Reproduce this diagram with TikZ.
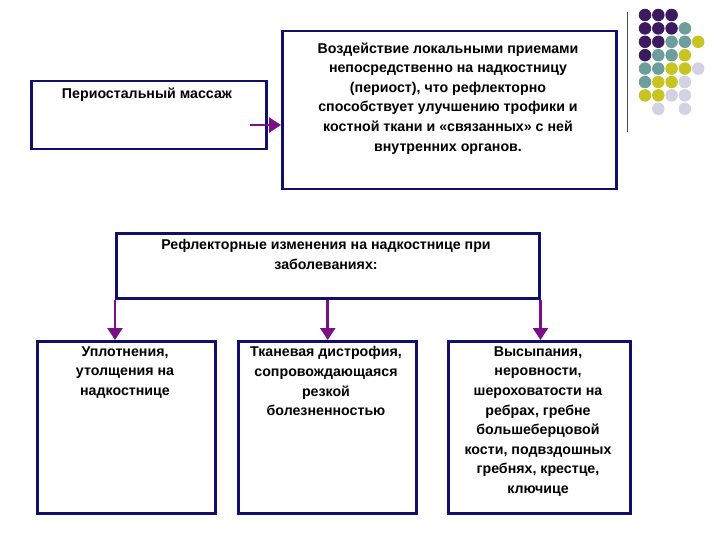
\documentclass[tikz,border=0pt]{standalone}
\usepackage{fontspec}
\setmainfont{Liberation Sans}
\usetikzlibrary{arrows.meta}
\definecolor{nav}{HTML}{10106A}
\definecolor{pur}{HTML}{7A0F86}
\definecolor{dP}{HTML}{3B1A5E}
\definecolor{dT}{HTML}{6E9E9C}
\definecolor{dY}{HTML}{C8C421}
\definecolor{dL}{HTML}{D2D2E2}
\tikzset{box/.style={draw=nav,line width=2.5pt,inner sep=0pt},
 txt/.style={font=\bfseries\fontsize{14.2}{19.6}\selectfont,align=center},
 arr/.style={draw=pur,line width=2.6pt,-{Triangle[length=12pt,width=15pt]}},
 dot/.style={circle,inner sep=0pt,minimum size=12.5pt}}
\begin{document}
\begin{tikzpicture}[x=1pt,y=-1pt]
\useasboundingbox (0,0) rectangle (720,540);
\node[box,minimum width=235pt,minimum height=68pt,anchor=north west] (a) at (30,80) {};
\node[txt,anchor=north] (at) at (147,84) {Периостальный массаж};
\node[box,minimum width=334pt,minimum height=158pt,anchor=north west] (b) at (281,30) {};
\node[txt,anchor=north] (bt) at (448,39) {Воздействие локальными приемами\\непосредственно на надкостницу\\(периост), что рефлекторно\\способствует улучшению трофики и\\костной ткани и «связанных» с ней\\внутренних органов.};
\coordinate (a1) at (250,125);
\coordinate (b1) at (281,125);
\draw[arr] (a1) -- (b1);
\node[box,minimum width=423pt,minimum height=65pt,anchor=north west] (c) at (115,232) {};
\node[txt,anchor=north] (ct) at (326,236) {Рефлекторные изменения на надкостнице при\\заболеваниях:};
\node[box,minimum width=178pt,minimum height=172pt,anchor=north west] (d1) at (36,340) {};
\node[box,minimum width=178pt,minimum height=172pt,anchor=north west] (d2) at (237,340) {};
\node[box,minimum width=182pt,minimum height=172pt,anchor=north west] (d3) at (447,340) {};
\node[txt,anchor=north] (t1) at (125,343) {Уплотнения,\\утолщения на\\надкостнице};
\node[txt,anchor=north] (t2) at (326,343) {Тканевая дистрофия,\\сопровождающаяся\\резкой\\болезненностью};
\node[txt,anchor=north] (t3) at (538,343) {Высыпания,\\неровности,\\шероховатости на\\ребрах, гребне\\большеберцовой\\кости, подвздошных\\гребнях, крестце,\\ключице};
\draw[arr] (c.south west) -- (d1.north west -| c.south west);
\draw[arr] (c.south) -- (c.south |- d2.north);
\draw[arr] (c.south east) -- (c.south east |- d3.north);
\draw[line width=1pt,black!70] (627,12) -- (627,132);
\foreach \r/\row in {0/{P,P,P,N,N},1/{P,P,P,T,N},2/{P,P,T,T,Y},3/{P,T,T,Y,N},4/{T,T,Y,Y,L},5/{T,Y,Y,L,N},6/{Y,Y,L,L,N},7/{N,L,N,L,N}}{
 \foreach \c[count=\i from 0] in \row {
  \if\c N\else
   \node[dot,fill=d\c] (g\r\i) at (645+13.3*\i,15+13.4*\r) {};
  \fi }}
\end{tikzpicture}
\end{document}
